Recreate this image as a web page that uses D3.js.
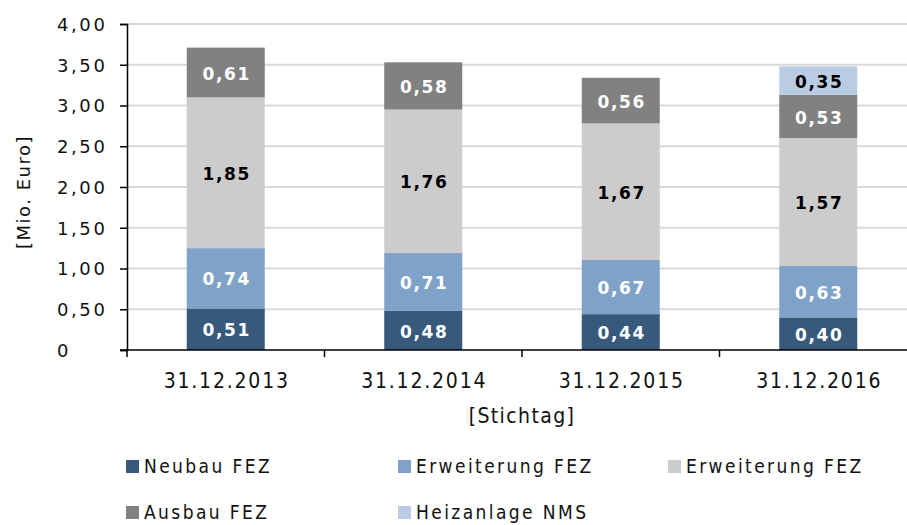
<!DOCTYPE html>
<html>
<head>
<meta charset="utf-8">
<script src="https://cdn.jsdelivr.net/npm/d3@7"></script>
<style>
  html, body { margin: 0; padding: 0; background: #fff; }
  svg { display: block; }
</style>
</head>
<body>
<svg id="chart" width="907" height="525"></svg>
<script>
// Stichtage (x categories)
const categories = ["31.12.2013", "31.12.2014", "31.12.2015", "31.12.2016"];

// Series, bottom to top of each stack
const seriesKeys   = ["neubau", "erweiterung1", "erweiterung2", "ausbau", "heizanlage"];
const seriesNames  = ["Neubau FEZ", "Erweiterung FEZ", "Erweiterung FEZ", "Ausbau FEZ", "Heizanlage NMS"];
const seriesColors = ["#375a7c", "#7fa3c8", "#cccccc", "#818181", "#b9cce4"];
const labelColors  = ["#ffffff", "#ffffff", "#000000", "#ffffff", "#000000"];

// Values in Mio. Euro per series, one per Stichtag
const neubau       = [0.51, 0.48, 0.44, 0.40];
const erweiterung1 = [0.74, 0.71, 0.67, 0.63];
const erweiterung2 = [1.85, 1.76, 1.67, 1.57];
const ausbau       = [0.61, 0.58, 0.56, 0.53];
const heizanlage   = [0,    0,    0,    0.35];

// Y axis ticks
const yTicks = [0, 0.5, 1, 1.5, 2, 2.5, 3, 3.5, 4];

const values = { neubau, erweiterung1, erweiterung2, ausbau, heizanlage };
const table = categories.map((c, i) => {
  const row = { cat: c };
  seriesKeys.forEach(k => row[k] = values[k][i]);
  return row;
});

const fmt = v => v === 0 ? "0" : v.toFixed(2).replace(".", ",");

const svg = d3.select("#chart");
const plot = { left: 127, right: 917, top: 24, bottom: 350 };

const x = d3.scaleBand()
  .domain(categories)
  .range([plot.left, plot.right])
  .paddingInner(0.605)
  .paddingOuter(0.3025);

const y = d3.scaleLinear().domain([0, 4]).range([plot.bottom, plot.top]);

// Horizontal gridlines
svg.append("g")
  .selectAll("line")
  .data(yTicks.filter(t => t > 0))
  .join("line")
  .attr("x1", plot.left).attr("x2", 907)
  .attr("y1", d => y(d)).attr("y2", d => y(d))
  .attr("stroke", "#d9d9d9").attr("stroke-width", 2);

// Stacked bars
const stack = d3.stack().keys(seriesKeys);
const layers = stack(table);

const gBars = svg.append("g");
layers.forEach((layer, si) => {
  gBars.append("g")
    .attr("fill", seriesColors[si])
    .selectAll("rect")
    .data(layer.filter(d => d[1] - d[0] > 0))
    .join("rect")
    .attr("x", d => x(d.data.cat))
    .attr("width", x.bandwidth())
    .attr("y", d => y(d[1]))
    .attr("height", d => y(d[0]) - y(d[1]));
});

// Value labels inside each segment
const gLabels = svg.append("g")
  .attr("font-family", "'DejaVu Sans', Verdana, sans-serif")
  .attr("font-weight", "bold")
  .attr("font-size", 17)
  .attr("letter-spacing", "1.6px")
  .attr("text-anchor", "middle");
layers.forEach((layer, si) => {
  gLabels.append("g")
    .attr("fill", labelColors[si])
    .selectAll("text")
    .data(layer.filter(d => d[1] - d[0] > 0))
    .join("text")
    .attr("x", d => x(d.data.cat) + x.bandwidth() / 2 + 1)
    .attr("y", d => (y(d[0]) + y(d[1])) / 2)
    .attr("dy", "0.42em")
    .text(d => fmt(d[1] - d[0]));
});

// Y axis
const yAxis = svg.append("g")
  .attr("transform", `translate(${plot.left},0)`)
  .call(d3.axisLeft(y).tickValues(yTicks).tickSize(7).tickFormat(fmt));
yAxis.select(".domain").attr("stroke", "#000").attr("stroke-width", 1.5);
yAxis.selectAll(".tick line").attr("stroke", "#000").attr("stroke-width", 1.5);
yAxis.selectAll(".tick text")
  .attr("x", -70)
  .attr("text-anchor", "start")
  .attr("dy", "0.36em")
  .attr("fill", "#111")
  .style("font-family", "'DejaVu Sans', Verdana, sans-serif")
  .style("font-size", "18px")
  .style("letter-spacing", "2.6px");

// X axis line and tick marks between categories
const step = x.step();
const bounds = categories.map(c => x(c) - (step - x.bandwidth()) / 2);
const gX = svg.append("g");
gX.append("line")
  .attr("x1", plot.left - 7).attr("x2", 907)
  .attr("y1", plot.bottom).attr("y2", plot.bottom)
  .attr("stroke", "#000").attr("stroke-width", 1.5);
gX.selectAll("line.tick")
  .data(bounds)
  .join("line")
  .attr("class", "tick")
  .attr("x1", d => d).attr("x2", d => d)
  .attr("y1", plot.bottom).attr("y2", plot.bottom + 7)
  .attr("stroke", "#000").attr("stroke-width", 1.5);
gX.selectAll("text")
  .data(categories)
  .join("text")
  .attr("x", d => x(d) + x.bandwidth() / 2 + 1)
  .attr("y", 388)
  .attr("text-anchor", "middle")
  .attr("fill", "#111")
  .style("font-family", "'DejaVu Sans Condensed', 'DejaVu Sans', sans-serif")
  .style("font-size", "21px")
  .style("letter-spacing", "1.8px")
  .text(d => d);

// Axis titles
svg.append("text")
  .attr("x", (plot.left + plot.right) / 2)
  .attr("y", 423)
  .attr("text-anchor", "middle")
  .attr("fill", "#111")
  .style("font-family", "'DejaVu Sans Condensed', 'DejaVu Sans', sans-serif")
  .style("font-size", "21px")
  .style("letter-spacing", "1.4px")
  .text("[Stichtag]");

svg.append("text")
  .attr("transform", `translate(30,${(plot.top + plot.bottom) / 2 + 5}) rotate(-90)`)
  .attr("text-anchor", "middle")
  .attr("fill", "#111")
  .style("font-family", "'DejaVu Sans', Verdana, sans-serif")
  .style("font-size", "18px")
  .style("letter-spacing", "1.5px")
  .text("[Mio. Euro]");

// Legend: two rows, three columns
const legendCols = [126, 398, 668];
const legendRows = [473, 519];
const gLegend = svg.append("g")
  .style("font-family", "'DejaVu Sans Condensed', 'DejaVu Sans', sans-serif")
  .style("font-size", "19px")
  .style("letter-spacing", "2.4px");
const items = gLegend.selectAll("g")
  .data(seriesNames.map((n, i) => ({ name: n, color: seriesColors[i], i })))
  .join("g")
  .attr("transform", d => `translate(${legendCols[d.i % 3]},${legendRows[Math.floor(d.i / 3)]})`);
items.append("rect")
  .attr("x", 0).attr("y", -13)
  .attr("width", 13).attr("height", 13)
  .attr("fill", d => d.color);
items.append("text")
  .attr("x", 18).attr("y", 0)
  .attr("fill", "#111")
  .text(d => d.name);
</script>
</body>
</html>
